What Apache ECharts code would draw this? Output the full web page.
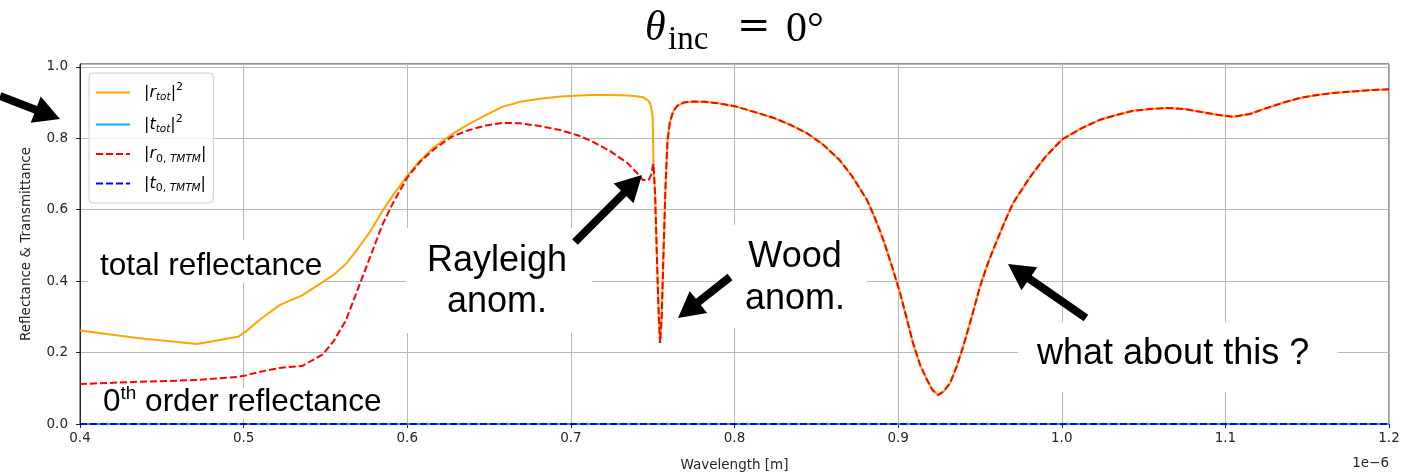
<!DOCTYPE html>
<html>
<head>
<meta charset="utf-8">
<script src="https://cdn.jsdelivr.net/npm/echarts@6/dist/echarts.min.js"></script>
<style>
  html, body { margin: 0; padding: 0; background: #ffffff; }
  #chart { width: 1409px; height: 475px; }
</style>
</head>
<body>
<div id="chart"></div>
<script>
// Wavelength samples (units of 1e-6 m)
const wavelength = [
  0.400, 0.435, 0.4715, 0.4965, 0.501, 0.511, 0.522, 0.536, 0.5485, 0.555,
  0.5625, 0.570, 0.5775, 0.585, 0.592, 0.600, 0.608, 0.616, 0.627, 0.637,
  0.648, 0.658, 0.669, 0.680, 0.6935, 0.705, 0.7135, 0.724, 0.7345, 0.740,
  0.744, 0.7475, 0.749, 0.750, 0.7505, 0.7515, 0.7525, 0.7535, 0.7545, 0.7555,
  0.7565, 0.7578, 0.759, 0.7605, 0.7625, 0.765, 0.769, 0.775, 0.782, 0.790,
  0.800, 0.812, 0.824, 0.834, 0.844, 0.854, 0.864, 0.872, 0.881, 0.886,
  0.891, 0.896, 0.901, 0.905, 0.909, 0.9135, 0.9177, 0.921, 0.9244, 0.928,
  0.9318, 0.9357, 0.9397, 0.945, 0.950, 0.955, 0.9605, 0.9655, 0.9703, 0.9807,
  0.990, 1.000, 1.012, 1.0235, 1.034, 1.0436, 1.054, 1.0644, 1.075, 1.0846,
  1.095, 1.1048, 1.115, 1.1255, 1.1357, 1.1457, 1.156, 1.1659, 1.180, 1.190,
  1.200
];

// |r_tot|^2 : total reflectance (all diffraction orders)
const rTotal = [
  0.262, 0.241, 0.224, 0.244, 0.258, 0.296, 0.333, 0.361, 0.398, 0.418,
  0.448, 0.492, 0.540, 0.598, 0.645, 0.695, 0.738, 0.774, 0.810, 0.838,
  0.865, 0.888, 0.902, 0.910, 0.917, 0.920, 0.921, 0.921, 0.920, 0.918,
  0.915, 0.905, 0.890, 0.860, 0.728, 0.640, 0.480, 0.330, 0.227, 0.300,
  0.460, 0.660, 0.790, 0.845, 0.875, 0.891, 0.900, 0.903, 0.902, 0.898,
  0.890, 0.874, 0.857, 0.838, 0.815, 0.783, 0.740, 0.693, 0.627, 0.575,
  0.515, 0.445, 0.370, 0.300, 0.228, 0.165, 0.123, 0.095, 0.081, 0.092,
  0.115, 0.160, 0.216, 0.300, 0.384, 0.452, 0.515, 0.570, 0.619, 0.692,
  0.748, 0.796, 0.828, 0.852, 0.866, 0.877, 0.882, 0.885, 0.882, 0.874,
  0.866, 0.860, 0.868, 0.885, 0.900, 0.913, 0.921, 0.927, 0.932, 0.935,
  0.937
];

// |r_0,TMTM| : zeroth-order reflectance
const rZeroOrder = [
  0.112, 0.118, 0.123, 0.132, 0.136, 0.147, 0.157, 0.163, 0.195, 0.232,
  0.290, 0.380, 0.470, 0.560, 0.625, 0.690, 0.735, 0.768, 0.804, 0.822,
  0.836, 0.843, 0.842, 0.835, 0.823, 0.807, 0.790, 0.764, 0.731, 0.705,
  0.683, 0.683, 0.697, 0.720, 0.728, 0.640, 0.480, 0.330, 0.227, 0.300,
  0.460, 0.660, 0.790, 0.845, 0.875, 0.891, 0.900, 0.903, 0.902, 0.898,
  0.890, 0.874, 0.857, 0.838, 0.815, 0.783, 0.740, 0.693, 0.627, 0.575,
  0.515, 0.445, 0.370, 0.300, 0.228, 0.165, 0.123, 0.095, 0.081, 0.092,
  0.115, 0.160, 0.216, 0.300, 0.384, 0.452, 0.515, 0.570, 0.619, 0.692,
  0.748, 0.796, 0.828, 0.852, 0.866, 0.877, 0.882, 0.885, 0.882, 0.874,
  0.866, 0.860, 0.868, 0.885, 0.900, 0.913, 0.921, 0.927, 0.932, 0.935,
  0.937
];

// Transmittance samples (opaque structure: zero everywhere)
const wavelengthT = [0.4, 0.6, 0.8, 1.0, 1.2];
const tTotal      = [0.0, 0.0, 0.0, 0.0, 0.0];
const tZeroOrder  = [0.0, 0.0, 0.0, 0.0, 0.0];

const seriesNames = ['r_tot', 't_tot', 'r_0', 't_0'];
const legendLabels = {
  r_tot: '{b||}{i|r}{s|tot}{b||}{p|2}',
  t_tot: '{b||}{i|t}{s|tot}{b||}{p|2}',
  r_0:   '{b||}{i|r}{u|0, }{s|TMTM}{b||}',
  t_0:   '{b||}{i|t}{u|0, }{s|TMTM}{b||}'
};

const FONT = 'DejaVu Sans';
const ANNOT_FONT = 'Liberation Sans';
const TEXT_COLOR = '#262626';

const pairs = (xs, ys) => xs.map((x, i) => [x, ys[i]]);

const chart = echarts.init(document.getElementById('chart'), null, { renderer: 'canvas' });

// arrow: thick shaft + filled triangular head, from tail (x1,y1) to tip (x2,y2)
function arrow(x1, y1, x2, y2) {
  const dx = x2 - x1, dy = y2 - y1;
  const L = Math.hypot(dx, dy);
  const ux = dx / L, uy = dy / L;
  const hl = 26, hw = 14;
  const bx = x2 - ux * hl, by = y2 - uy * hl;
  return [
    { type: 'line', z: 20, shape: { x1: x1, y1: y1, x2: bx + ux * 2, y2: by + uy * 2 },
      style: { stroke: '#000', lineWidth: 8 } },
    { type: 'polygon', z: 20,
      shape: { points: [[x2, y2], [bx - uy * hw, by + ux * hw], [bx + uy * hw, by - ux * hw]] },
      style: { fill: '#000' } }
  ];
}

function box(x, y, w, h) {
  return { type: 'rect', z: 1, shape: { x: x, y: y, width: w, height: h }, style: { fill: '#ffffff' } };
}

function label(text, x, y, size, align, extra) {
  return Object.assign({
    type: 'text', z: 21, x: x, y: y,
    style: {
      text: text, fill: '#000', font: size + 'px "' + ANNOT_FONT + '"',
      align: align || 'left', verticalAlign: 'middle'
    }
  }, extra || {});
}

const graphics = [].concat(
  // white backings under annotation texts
  box(88, 240, 235, 43),
  box(96, 388, 292, 31),
  box(406, 228, 186, 105),
  box(717, 225, 150, 103),
  box(1018, 322, 320, 70),
  // arrows
  arrow(0, 96, 60, 119),
  arrow(575, 242, 642, 175),
  arrow(730, 277, 678, 318),
  arrow(1086, 318, 1008, 264),
  // annotation texts
  [
    label('total reflectance', 100, 266, 31.5),
    {
      type: 'text', z: 21, x: 103, y: 402,
      style: {
        text: '{n|0}{p|th}{n| order reflectance}',
        verticalAlign: 'middle', align: 'left',
        rich: {
          n: { fontFamily: ANNOT_FONT, fontSize: 31.5, lineHeight: 36, fill: '#000', verticalAlign: 'middle' },
          p: { fontFamily: ANNOT_FONT, fontSize: 19, lineHeight: 19, fill: '#000', verticalAlign: 'top' }
        }
      }
    },
    {
      type: 'text', z: 21, x: 497, y: 282,
      style: { text: 'Rayleigh\nanom.', fill: '#000', font: '36px "' + ANNOT_FONT + '"',
               align: 'center', verticalAlign: 'middle', lineHeight: 41 }
    },
    {
      type: 'text', z: 21, x: 795, y: 278,
      style: { text: 'Wood\nanom.', fill: '#000', font: '36px "' + ANNOT_FONT + '"',
               align: 'center', verticalAlign: 'middle', lineHeight: 42 }
    },
    label('what about this ?', 1037, 354, 36),
    // title: θ_inc = 0°
    { type: 'text', z: 21, x: 645, y: 29,
      style: { text: 'θ', fill: '#000', font: 'italic 42px "Liberation Serif"', align: 'left', verticalAlign: 'middle' } },
    { type: 'text', z: 21, x: 668, y: 40,
      style: { text: 'inc', fill: '#000', font: '33px "Liberation Serif"', align: 'left', verticalAlign: 'middle' } },
    { type: 'text', z: 21, x: 737, y: 28,
      style: { text: '=', fill: '#000', font: '40px "DejaVu Serif"', align: 'left', verticalAlign: 'middle' } },
    { type: 'text', z: 21, x: 786, y: 30,
      style: { text: '0°', fill: '#000', font: '42px "Liberation Serif"', align: 'left', verticalAlign: 'middle' } },
    // axis offset text
    { type: 'text', z: 21, x: 1389, y: 463,
      style: { text: '1e\u22126', fill: TEXT_COLOR, font: '13.5px "' + FONT + '"', align: 'right', verticalAlign: 'middle' } }
  ]
);

const yLabel = v => (Math.abs(v * 5 - Math.round(v * 5)) < 1e-6 ? v.toFixed(1) : '');

const option = {
  animation: false,
  backgroundColor: '#ffffff',
  grid: {
    left: 80, right: 20, top: 64, bottom: 51,
    containLabel: false, outerBoundsMode: 'none',
    show: true, borderColor: '#262626', borderWidth: 1, backgroundColor: 'transparent'
  },
  xAxis: {
    type: 'value', min: 0.4, max: 1.2, interval: 0.1,
    name: 'Wavelength [m]', nameLocation: 'middle', nameGap: 34,
    nameTextStyle: { fontFamily: FONT, fontSize: 13.5, color: TEXT_COLOR },
    axisLine: { show: true, onZero: false, lineStyle: { color: '#262626', width: 1 } },
    axisTick: { show: true, inside: false, length: 4, lineStyle: { color: '#262626', width: 1 } },
    axisLabel: { show: true, margin: 7, fontFamily: FONT, fontSize: 13.5, color: TEXT_COLOR,
                 formatter: v => v.toFixed(1), hideOverlap: false },
    splitLine: { show: true, lineStyle: { color: '#b8b8b8', width: 1 } },
    minorTick: { show: false }
  },
  yAxis: {
    type: 'value', min: 0, max: 1.008, interval: 0.2,
    name: 'Reflectance & Transmittance', nameLocation: 'middle', nameGap: 47, nameRotate: 90,
    nameTextStyle: { fontFamily: FONT, fontSize: 13.5, color: TEXT_COLOR },
    axisLine: { show: true, onZero: false, lineStyle: { color: '#262626', width: 1 } },
    axisTick: { show: true, inside: false, length: 4, lineStyle: { color: '#262626', width: 1 } },
    axisLabel: { show: true, margin: 12, fontFamily: FONT, fontSize: 13.5, color: TEXT_COLOR,
                 formatter: yLabel, showMaxLabel: false, hideOverlap: false },
    splitLine: { show: true, lineStyle: { color: '#b8b8b8', width: 1 } }
  },
  legend: {
    data: seriesNames,
    orient: 'vertical', left: 89, top: 73,
    padding: [9, 7, 9, 6], itemGap: 11, itemWidth: 34, itemHeight: 14,
    backgroundColor: 'rgba(255,255,255,0.8)', borderColor: '#cccccc', borderWidth: 1, borderRadius: 4,
    selectedMode: false,
    // line-only keys: hide the default marker drawn on top of the line
    itemStyle: { opacity: 0 },
    formatter: name => legendLabels[name],
    textStyle: {
      padding: [0, 0, 0, 9],
      rich: {
        b: { fontFamily: FONT, fontSize: 16, lineHeight: 21, color: '#000', verticalAlign: 'middle' },
        i: { fontFamily: FONT, fontStyle: 'italic', fontSize: 16, lineHeight: 21, color: '#000', verticalAlign: 'middle' },
        s: { fontFamily: FONT, fontStyle: 'italic', fontSize: 10.5, lineHeight: 11, color: '#000', verticalAlign: 'bottom' },
        u: { fontFamily: FONT, fontSize: 11, lineHeight: 11, color: '#000', verticalAlign: 'bottom' },
        p: { fontFamily: FONT, fontSize: 11, lineHeight: 11, color: '#000', verticalAlign: 'top' }
      }
    }
  },
  series: [
    {
      name: 'r_tot', type: 'line', data: pairs(wavelength, rTotal),
      showSymbol: false, symbol: 'none', smooth: false, z: 2,
      lineStyle: { color: '#ffa500', width: 2, type: 'solid' }, itemStyle: { color: '#ffa500' }
    },
    {
      name: 't_tot', type: 'line', data: pairs(wavelengthT, tTotal),
      showSymbol: false, symbol: 'none', z: 3,
      lineStyle: { color: '#13a8ff', width: 2, type: 'solid' }, itemStyle: { color: '#13a8ff' }
    },
    {
      name: 'r_0', type: 'line', data: pairs(wavelength, rZeroOrder),
      showSymbol: false, symbol: 'none', smooth: false, z: 4,
      lineStyle: { color: '#ff0000', width: 2, type: [7, 3] }, itemStyle: { color: '#ff0000' }
    },
    {
      name: 't_0', type: 'line', data: pairs(wavelengthT, tZeroOrder),
      showSymbol: false, symbol: 'none', z: 5,
      lineStyle: { color: '#0000ff', width: 2, type: [7, 3] }, itemStyle: { color: '#0000ff' }
    }
  ],
  graphic: { elements: graphics }
};

chart.setOption(option);
</script>
</body>
</html>
